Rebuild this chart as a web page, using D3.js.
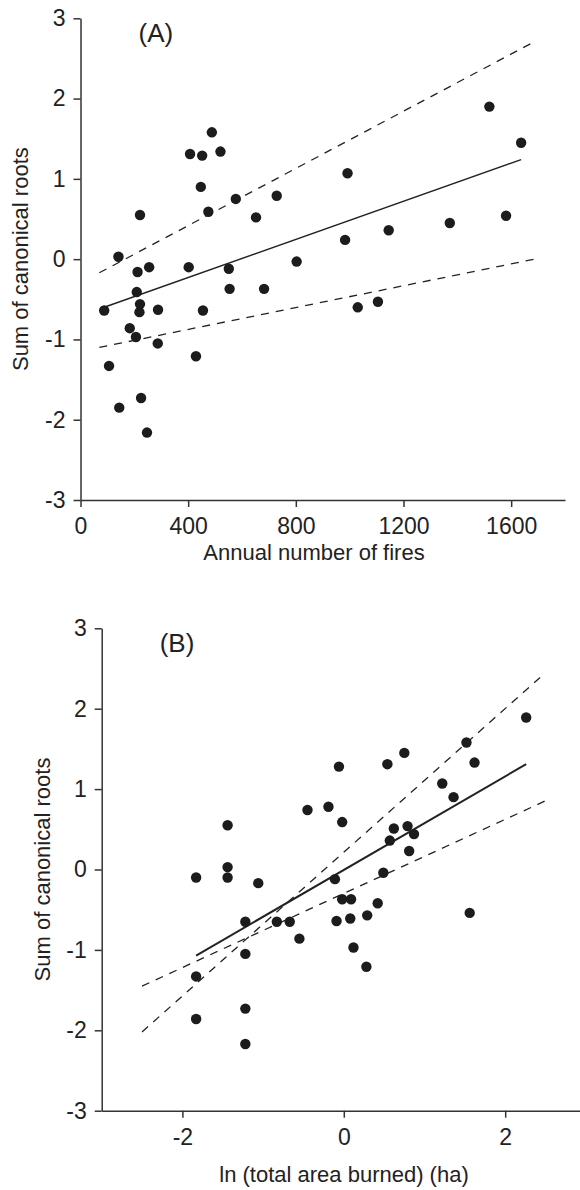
<!DOCTYPE html>
<html>
<head>
<meta charset="utf-8">
<script src="https://cdn.jsdelivr.net/npm/d3@7"></script>
<style>
  body { margin: 0; background: #fff; }
  svg { display: block; font-family: "Liberation Sans", Arial, sans-serif; }
  .axis path, .axis line { stroke: #333; stroke-width: 1.5; }
  .axis text { font-size: 23px; fill: #222; }
</style>
</head>
<body>
<div id="chart"></div>
<script>
// Panel A: annual number of fires vs sum of canonical roots
const firesA = [88, 141, 106, 144, 212, 255, 209, 221, 219, 183, 206, 288, 287, 225, 247,
  402, 551, 554, 455, 429, 682, 803, 221, 488, 407, 452, 520, 447, 475, 577, 652, 729,
  992, 1519, 1637, 983, 1145, 1372, 1581, 1030, 1105];
const rootsA = [-0.64, 0.03, -1.33, -1.85, -0.16, -0.10, -0.41, -0.56, -0.66, -0.86, -0.97, -0.63, -1.05, -1.73, -2.16,
  -0.10, -0.12, -0.37, -0.64, -1.21, -0.37, -0.03, 0.55, 1.58, 1.31, 1.29, 1.34, 0.90, 0.59, 0.75, 0.52, 0.79,
  1.07, 1.90, 1.45, 0.24, 0.36, 0.45, 0.54, -0.60, -0.53];
const fitA = [[88, -0.60], [1637, 1.24]];
const upperA = [[70, -0.17], [1687, 2.71]];
const lowerA = [[70, -1.10], [1687, 0.00]];
const xTicksA = [0, 400, 800, 1200, 1600];

// Panel B: ln(total area burned) vs sum of canonical roots
const areaB = [-1.44, -1.44, -1.44, -1.83, -1.06,
  2.26, 1.52, 1.62, 0.75, 0.54, -0.06, 1.22, 1.36, -0.45, -0.19, -0.02, 0.62, 0.79, 0.87, 0.57, 0.81, 0.49, -0.11,
  -1.22, -0.83, -0.67, -0.55, -1.22, -1.83, -1.83, -1.22, -1.22, -0.02, 0.09, -0.09, 0.08, 0.12,
  0.42, 0.29, 0.28, 1.56];
const rootsB = [0.55, 0.03, -0.10, -0.10, -0.17,
  1.89, 1.58, 1.33, 1.45, 1.31, 1.28, 1.07, 0.90, 0.74, 0.78, 0.59, 0.51, 0.54, 0.44, 0.36, 0.23, -0.04, -0.12,
  -0.65, -0.65, -0.65, -0.86, -1.05, -1.33, -1.86, -1.73, -2.17, -0.37, -0.37, -0.64, -0.61, -0.97,
  -0.42, -0.57, -1.21, -0.54];
const fitB = [[-1.83, -1.07], [2.26, 1.31]];
const bandB1 = [[-2.50, -1.45], [2.49, 0.85]];
const bandB2 = [[-2.50, -2.02], [2.49, 2.44]];
const xTicksB = [-2, 0, 2];

const yTicks = [-3, -2, -1, 0, 1, 2, 3];

const width = 580;
const height = 1190;

const svg = d3.select("#chart")
  .append("svg")
  .attr("width", width)
  .attr("height", height);

function drawPanel(opts) {
  const { x, y, xs, ys, fit, bands, xTicks, label, xLabel, xLabelPos, yLabelX, fitWidth } = opts;
  const g = svg.append("g");

  g.append("g")
    .attr("class", "axis")
    .attr("transform", `translate(0,${y.range()[0]})`)
    .call(d3.axisBottom(x).tickValues(xTicks).tickSize(7).tickSizeOuter(0).tickPadding(11).tickFormat((d) => String(d)));

  g.append("g")
    .attr("class", "axis")
    .attr("transform", `translate(${x.range()[0]},0)`)
    .call(d3.axisLeft(y).tickValues(yTicks).tickSize(7).tickSizeOuter(0).tickPadding(8).tickFormat((d) => String(d)));

  g.selectAll(".axis .domain").attr("fill", "none");

  const line = d3.line().x((d) => x(d[0])).y((d) => y(d[1]));

  // confidence limits
  g.selectAll(".band")
    .data(bands)
    .join("path")
    .attr("class", "band")
    .attr("d", line)
    .attr("fill", "none")
    .attr("stroke", "#222")
    .attr("stroke-width", 1.3)
    .attr("stroke-dasharray", "8,7");

  // fitted line
  g.append("path")
    .attr("d", line(fit))
    .attr("fill", "none")
    .attr("stroke", "#222")
    .attr("stroke-width", fitWidth);

  g.selectAll(".dot")
    .data(d3.range(xs.length))
    .join("circle")
    .attr("class", "dot")
    .attr("cx", (i) => x(xs[i]))
    .attr("cy", (i) => y(ys[i]))
    .attr("r", 5.2)
    .attr("fill", "#1c1c1c");

  g.append("text")
    .attr("x", x.range()[0] + 58)
    .attr("y", y.range()[1] + 24)
    .attr("font-size", 26)
    .attr("fill", "#222")
    .text(label);

  g.append("text")
    .attr("x", xLabelPos[0])
    .attr("y", xLabelPos[1])
    .attr("text-anchor", "middle")
    .attr("font-size", 22)
    .attr("fill", "#222")
    .text(xLabel);

  const yMid = (y.range()[0] + y.range()[1]) / 2;
  g.append("text")
    .attr("transform", `translate(${yLabelX},${yMid}) rotate(-90)`)
    .attr("text-anchor", "middle")
    .attr("font-size", 22)
    .attr("fill", "#222")
    .text("Sum of canonical roots");
}

const xA = d3.scaleLinear().domain([0, 1800]).range([80.5, 565]);
const yA = d3.scaleLinear().domain([-3, 3]).range([500, 18.3]);

drawPanel({
  x: xA, y: yA, xs: firesA, ys: rootsA,
  fit: fitA, bands: [upperA, lowerA], xTicks: xTicksA,
  label: "(A)", xLabel: "Annual number of fires",
  xLabelPos: [314, 560], yLabelX: 28, fitWidth: 1.5,
});

const xB = d3.scaleLinear().domain([-3, 3]).range([101.7, 585.9]);
const yB = d3.scaleLinear().domain([-3, 3]).range([1110.7, 628.3]);

drawPanel({
  x: xB, y: yB, xs: areaB, ys: rootsB,
  fit: fitB, bands: [bandB1, bandB2], xTicks: xTicksB,
  label: "(B)", xLabel: "ln (total area burned) (ha)",
  xLabelPos: [344, 1182], yLabelX: 50, fitWidth: 2,
});
</script>
</body>
</html>
